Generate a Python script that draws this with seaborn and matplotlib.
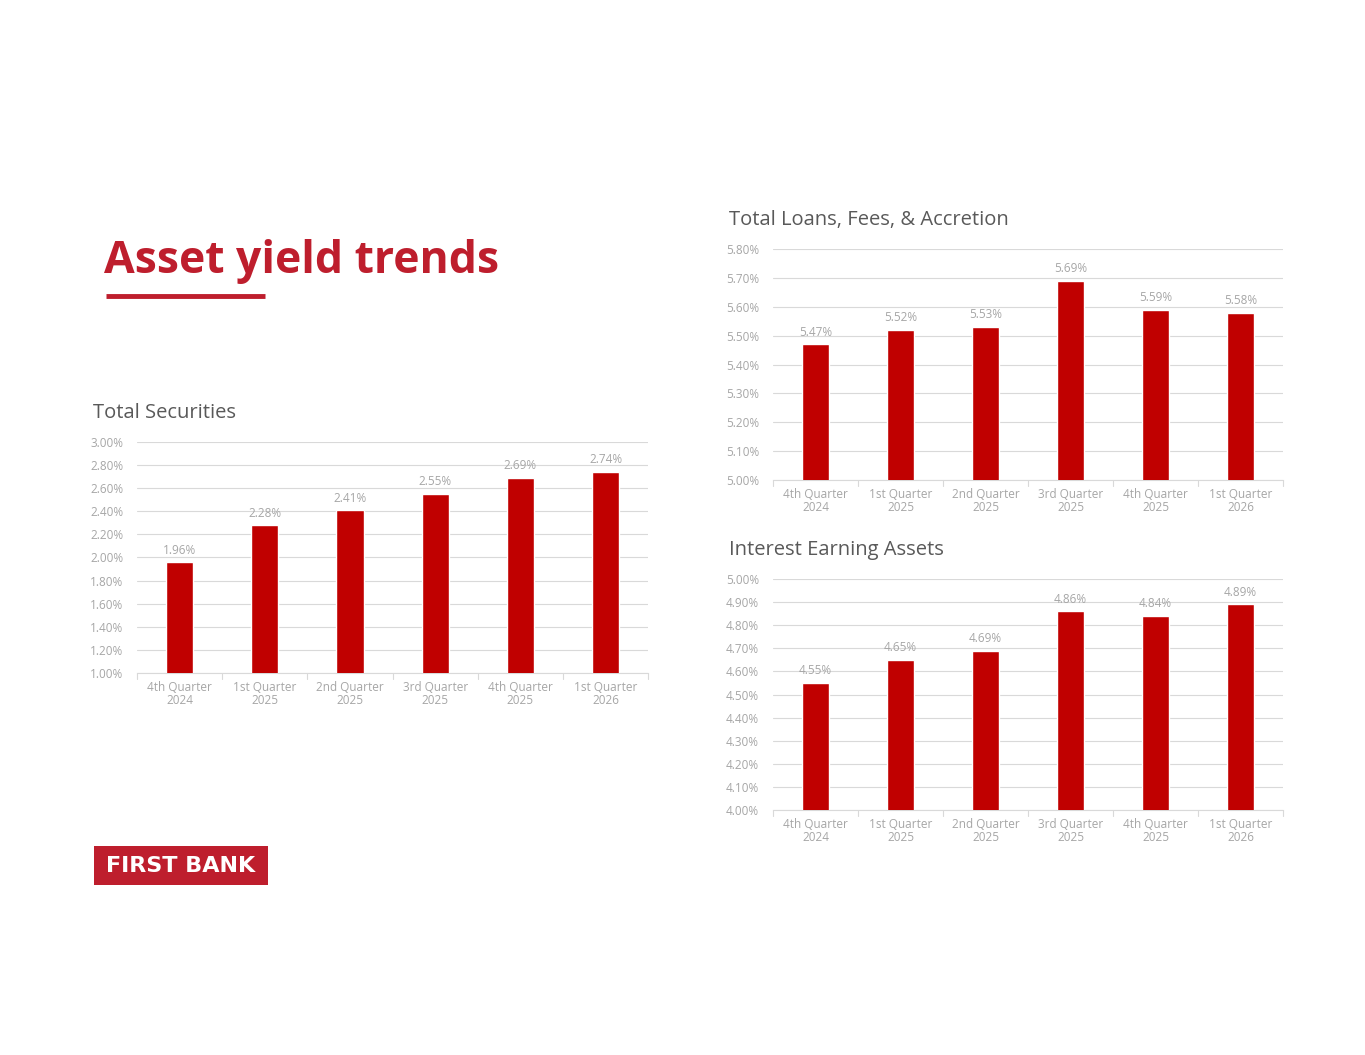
import pandas as pd
import matplotlib
matplotlib.use('Agg')
import matplotlib.pyplot as plt
from matplotlib.patches import Rectangle
from matplotlib.lines import Line2D
import seaborn as sns

sns.set_style('white')
plt.rcParams['font.family'] = ['Open Sans', 'DejaVu Sans']

# data
quarters = ['4th Quarter\n2024', '1st Quarter\n2025', '2nd Quarter\n2025',
            '3rd Quarter\n2025', '4th Quarter\n2025', '1st Quarter\n2026']
securities = [1.96, 2.28, 2.41, 2.55, 2.69, 2.74]
loans = [5.47, 5.52, 5.53, 5.69, 5.59, 5.58]
earning_assets = [4.55, 4.65, 4.69, 4.86, 4.84, 4.89]

BAR = '#C00000'
BRAND = '#BE1E2D'
GRID = '#D9D9D9'
TICK = '#A6A6A6'
TITLE = '#595959'

fig = plt.figure(figsize=(13.65, 10.55), dpi=100)
fig.patch.set_facecolor('white')


def draw(rect, values, title, lo, hi, step):
    ax = fig.add_axes(rect)
    df = pd.DataFrame({'quarter': quarters, 'yield': values})
    sns.barplot(df, x='quarter', y='yield', color=BAR, width=0.32,
                saturation=1, ax=ax, zorder=3)
    ax.set_ylim(lo, hi)
    n = int(round((hi - lo) / step))
    ticks = [lo + i * step for i in range(n + 1)]
    ax.set_yticks(ticks)
    ax.set_yticklabels([f'{t:.2f}%' for t in ticks], color=TICK, fontsize=8.5)
    ax.tick_params(axis='y', length=0, pad=10)
    ax.tick_params(axis='x', length=0, pad=6, labelsize=8.5, labelcolor=TICK)
    ax.set_xlim(-0.5, len(quarters) - 0.5)
    ax.grid(axis='y', color=GRID, linewidth=0.8, zorder=0)
    for s in ['top', 'right', 'left']:
        ax.spines[s].set_visible(False)
    ax.spines['bottom'].set_color(GRID)
    ax.spines['bottom'].set_linewidth(0.8)
    # small tick marks between categories
    for i in range(len(quarters) + 1):
        ax.plot([i - 0.5, i - 0.5], [0, -0.025], transform=ax.get_xaxis_transform(),
                color=GRID, linewidth=0.8, clip_on=False)
    ax.bar_label(ax.containers[0], labels=[f'{v:.2f}%' for v in values],
                 padding=4, color=TICK, fontsize=8.5)
    ax.set_xlabel('')
    ax.set_ylabel('')
    ax.set_title(title, loc='left', x=-0.087, pad=17, color=TITLE, fontsize=14.5)
    for lab in ax.get_xticklabels():
        lab.set_linespacing(1.0)
    return ax


draw([0.1004, 0.3621, 0.3744, 0.219], securities, 'Total Securities', 1.0, 3.0, 0.2)
draw([0.5663, 0.545, 0.3736, 0.219], loans, 'Total Loans, Fees, & Accretion', 5.0, 5.8, 0.1)
draw([0.5663, 0.2322, 0.3736, 0.219], earning_assets, 'Interest Earning Assets', 4.0, 5.0, 0.1)

# page heading
fig.text(104 / 1365, 1 - 261 / 1055, 'Asset yield trends', color=BRAND,
         fontsize=32, fontweight='bold', va='center', ha='left')
fig.add_artist(Line2D([106 / 1365, 265 / 1365], [1 - 296 / 1055, 1 - 296 / 1055],
                      color=BRAND, linewidth=3.5, solid_capstyle='butt',
                      transform=fig.transFigure))

# logo
fig.add_artist(Rectangle((94 / 1365, 1 - 885 / 1055), 174 / 1365, 39 / 1055,
                         facecolor=BRAND, edgecolor='none', transform=fig.transFigure))
fig.text(181 / 1365, 1 - 866 / 1055, 'FIRST BANK', color='white', fontsize=16,
         fontweight='bold', ha='center', va='center', family='DejaVu Sans')

fig.savefig('out.png', dpi=100, facecolor='white')
